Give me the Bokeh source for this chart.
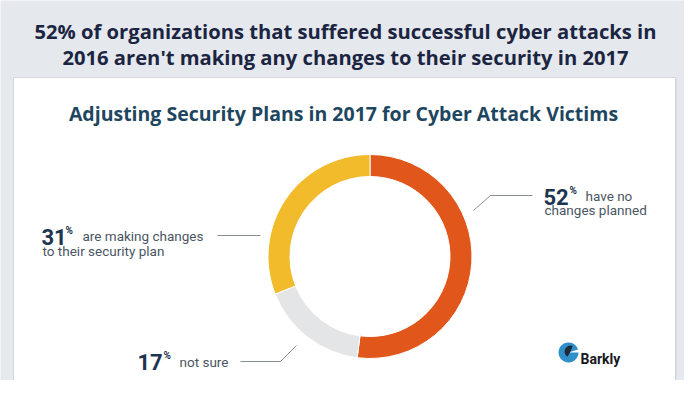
import math
from bokeh.plotting import figure
from bokeh.models import Range1d, ColumnDataSource
from bokeh.core.properties import value
from bokeh.embed import file_html
from bokeh.resources import INLINE

# ---- data ----
categories = ["have no changes planned", "not sure", "are making changes to their security plan"]
shares = [52, 17, 31]
seg_colors = ["#e1561b", "#e4e5e7", "#f1bb2c"]
title_lines = ["52% of organizations that suffered successful cyber attacks in",
               "2016 aren't making any changes to their security in 2017"]
subtitle = "Adjusting Security Plans in 2017 for Cyber Attack Victims"

BG = "#e5e8ed"
W, H = 684, 380

p = figure(width=W, height=H, x_range=Range1d(0, W), y_range=Range1d(-H, 0),
           output_backend="svg", toolbar_location=None, x_axis_type=None, y_axis_type=None,
           min_border=0, background_fill_color=BG, border_fill_color=BG)
p.outline_line_color = None
p.grid.visible = False

def Y(py):
    return -py

# title
for i, t in enumerate(title_lines):
    p.text(x=[345], y=[Y(30 + 26 * i)], text=[t], text_font=value("Open Sans"),
           text_font_style="bold", text_font_size="20.2px", text_color="#1b2541",
           text_align="center", text_baseline="alphabetic")

# white panel
p.quad(left=[14], right=[676], top=[Y(78)], bottom=[Y(385)], fill_color="#cfd3d9", line_color=None)
p.quad(left=[13], right=[675], top=[Y(77)], bottom=[Y(384)], fill_color="white", line_color="#d3d6db", line_width=1)

# subtitle
p.text(x=[343], y=[Y(113)], text=[subtitle], text_font=value("Open Sans"), text_font_style="bold",
       text_font_size="19.5px", text_color="#1e4660", text_align="center", text_baseline="alphabetic")

# donut
cx, cy = 369.5, 256
starts, ends = [], []
cum = 0
total = sum(shares)
for s in shares:
    starts.append(math.pi / 2 - 2 * math.pi * cum / total)
    cum += s
    ends.append(math.pi / 2 - 2 * math.pi * cum / total)
src = ColumnDataSource(dict(start=starts, end=ends, color=seg_colors, cat=categories))
p.annular_wedge(x=cx, y=Y(cy), inner_radius=80, outer_radius=102, start_angle="start", end_angle="end",
                direction="clock", fill_color="color", line_color="white", line_width=1, source=src)

# leader lines
LC = "#8a8f96"
p.line(x=[473, 490, 532], y=[Y(210), Y(195), Y(195)], line_color=LC, line_width=1)
p.line(x=[217, 260], y=[Y(235), Y(235)], line_color=LC, line_width=1)
p.line(x=[240, 280, 296], y=[Y(361), Y(361), Y(345)], line_color=LC, line_width=1)

NUM = "#1d3550"
TXT = "#4a5663"
def num_label(x, y, v):
    p.text(x=[x], y=[Y(y)], text=[str(v)], text_font=value("Roboto"), text_font_style="bold",
           text_font_size="22px", text_color=NUM, text_baseline="alphabetic")

def pct(x, y):
    p.text(x=[x], y=[Y(y)], text=["%"], text_font=value("Roboto"), text_font_style="bold",
           text_font_size="10px", text_color=NUM, text_baseline="alphabetic")

def small(x, y, t):
    p.text(x=[x], y=[Y(y)], text=[t], text_font=value("Roboto"), text_font_size="13.5px",
           text_color=TXT, text_baseline="alphabetic")

# 52%
num_label(543, 196, shares[0]); pct(569, 190)
small(585, 195, "have no"); small(544, 209, "changes planned")
# 31%
num_label(41, 236, shares[2]); pct(65, 230)
small(82, 235, "are making changes"); small(42, 250, "to their security plan")
# 17%
num_label(137, 361, shares[1]); pct(163, 355)
small(179, 361, "not sure")

# Barkly logo
p.annular_wedge(x=[568], y=[Y(352)], inner_radius=0, outer_radius=10, start_angle=[0.3], end_angle=[2 * math.pi],
                fill_color="#2f8fc9", line_color=None)
p.annular_wedge(x=[570], y=[Y(351)], inner_radius=0, outer_radius=6, start_angle=[1.2], end_angle=[4.2],
                fill_color="#1c2a3a", line_color=None)
p.text(x=[580], y=[Y(358)], text=["Barkly"], text_font=value("Roboto"), text_font_style="bold",
       text_font_size="14px", text_color="#16181d", text_baseline="alphabetic")

html = file_html(p, INLINE)
html = html.replace("<body>", '<body style="background-color:%s;">' % BG, 1)
open("out.html", "w").write(html)
